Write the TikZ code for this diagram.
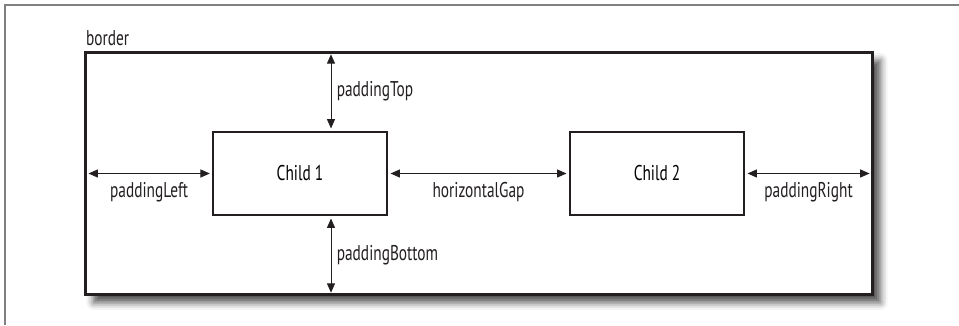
\documentclass[tikz,border=0pt]{standalone}
\usepackage{fontspec}
\setmainfont{PT Sans}[FakeStretch=0.72]
\usetikzlibrary{arrows.meta,shadows.blur}
\definecolor{ink}{HTML}{231F20}
\tikzset{
  box/.style={draw=ink, line width=0.8pt, fill=white, minimum width=130.5pt,
    minimum height=62.25pt, inner sep=0pt, font=\fontsize{16}{18}\selectfont},
  gap/.style={{Triangle[length=7pt,width=6pt]}-{Triangle[length=7pt,width=6pt]},
    draw=ink, line width=0.7pt},
  lbl/.style={text=ink, inner sep=1pt, font=\fontsize{16}{18}\selectfont}
}
\begin{document}
\begin{tikzpicture}[x=0.75pt,y=0.75pt]
   \useasboundingbox (0,0) rectangle (959,325);
   \draw[color=gray, line width=0.8pt] (5,0) -- (5,320) -- (959,320);

   \node[draw=ink, line width=1.8pt, fill=white, minimum width=590pt,
     minimum height=181.5pt, inner sep=0pt,
     blur shadow={shadow xshift=6pt, shadow yshift=-6pt,
       shadow blur radius=5.5pt, shadow opacity=70}] (border) at (479,151.5) {};
   \node[lbl, anchor=south west] at ([yshift=3pt]border.north west) {border};

   \node[box] (child1) at (300,151.5) {Child 1};
   \node[box] (child2) at (657,151.5) {Child 2};

   \draw[gap] ([xshift=3pt]border.west) -- ([xshift=-2pt]child1.west)
     node[lbl, midway, below=5pt] {paddingLeft};
   \draw[gap] ([xshift=2.25pt]child1.east) -- ([xshift=-2.25pt]child2.west)
     node[lbl, midway, below=5pt] {horizontalGap};
   \draw[gap] ([xshift=2.25pt]child2.east) -- ([xshift=-3pt]border.east)
     node[lbl, midway, below=5pt] {paddingRight};

   \draw[gap] ([xshift=23.25pt,yshift=-2.25pt]child1.north |- border.north)
     -- ([xshift=23.25pt,yshift=2.25pt]child1.north)
     node[lbl, midway, right=3pt] {paddingTop};
   \draw[gap] ([xshift=23.25pt,yshift=-2.25pt]child1.south)
     -- ([xshift=23.25pt,yshift=2.25pt]child1.south |- border.south)
     node[lbl, midway, right=3pt] {paddingBottom};
\end{tikzpicture}
\end{document}
